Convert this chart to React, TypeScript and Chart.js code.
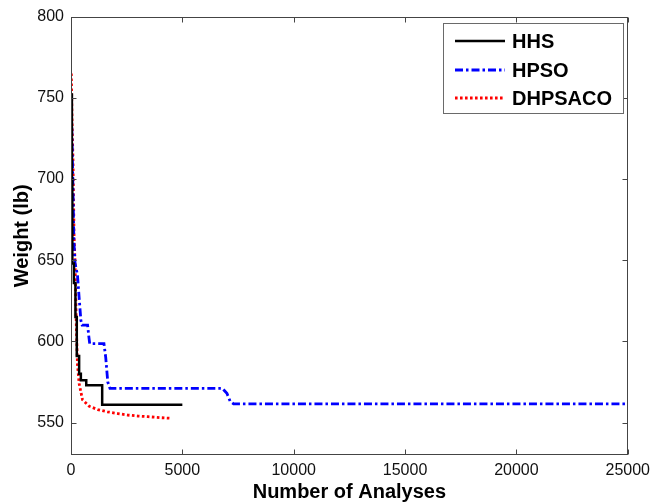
import React, { useEffect, useRef } from "react";
import { Chart, registerables } from "chart.js";

Chart.register(...registerables);

// Axis ticks
const xTicks = [0, 5000, 10000, 15000, 20000, 25000];
const yTicks = [550, 600, 650, 700, 750, 800];

// HHS (best-so-far, step curve)
const hhsX = [0, 40, 60, 130, 200, 260, 365, 443, 685, 1400, 5000];
const hhsY = [752, 700, 648, 636, 615, 591, 580, 576, 573, 561, 561];

// HPSO
const hpsoX = [20, 80, 130, 183, 289, 365, 443, 500, 745, 800, 840, 1480, 1560, 1650, 1750, 6800, 7000, 7150, 7300, 25000];
const hpsoY = [742, 700, 662, 648, 641, 627, 613, 610, 610, 603, 598.6, 598.6, 590, 575, 571, 571, 568, 563, 561.5, 561.5];

// DHPSACO
const dhpX = [15, 50, 90, 137, 183, 213, 243, 289, 365, 517, 822, 1200, 1630, 2100, 2543, 3000, 3457, 4000, 4480];
const dhpY = [765, 735, 711, 665, 648, 627, 607, 586, 574, 564, 560, 558, 556.6, 555.5, 554.6, 554, 553.6, 553, 552.6];

const seriesNames = ["HHS", "HPSO", "DHPSACO"];
const seriesColors = ["#000000", "#0000ff", "#ff0000"];

const FONT = "'Liberation Sans', Arial, sans-serif";

const toPts = (xs: number[], ys: number[]) => xs.map((x, i) => ({ x, y: ys[i] }));

const framePlugin = {
  id: "frame",
  afterDatasetsDraw(chart: any) {
    const { ctx, chartArea, scales } = chart;
    const { left, right, top, bottom } = chartArea;
    const xs = scales.x;
    const ys = scales.y;
    ctx.save();
    ctx.strokeStyle = "#444444";
    ctx.lineWidth = 1;
    ctx.setLineDash([]);
    const L = Math.round(left) + 0.5;
    const R = Math.round(right) - 0.5;
    const T = Math.round(top) + 0.5;
    const B = Math.round(bottom) - 0.5;
    ctx.strokeRect(L, T, R - L, B - T);
    const tl = 5;
    ctx.beginPath();
    xTicks.forEach((v) => {
      const px = Math.round(xs.getPixelForValue(v)) + 0.5;
      ctx.moveTo(px, B);
      ctx.lineTo(px, B - tl);
      ctx.moveTo(px, T);
      ctx.lineTo(px, T + tl);
    });
    yTicks.forEach((v) => {
      const py = Math.round(ys.getPixelForValue(v)) + 0.5;
      ctx.moveTo(L, py);
      ctx.lineTo(L + tl, py);
      ctx.moveTo(R, py);
      ctx.lineTo(R - tl, py);
    });
    ctx.stroke();
    ctx.restore();
  },
  afterDraw(chart: any) {
    const { ctx } = chart;
    const datasets = chart.data.datasets;
    ctx.save();
    const bx = 443.5, by = 23.5, bw = 180, bh = 90;
    ctx.fillStyle = "#ffffff";
    ctx.fillRect(bx, by, bw, bh);
    ctx.strokeStyle = "#6a6a6a";
    ctx.lineWidth = 1;
    ctx.setLineDash([]);
    ctx.strokeRect(bx, by, bw, bh);
    const rowsY = [41, 70, 98];
    datasets.forEach((ds: any, i: number) => {
      const y = rowsY[i];
      ctx.beginPath();
      ctx.strokeStyle = ds.borderColor;
      ctx.lineWidth = ds.borderWidth;
      ctx.setLineDash(ds.borderDash || []);
      ctx.moveTo(455, y);
      ctx.lineTo(505, y);
      ctx.stroke();
      ctx.setLineDash([]);
      ctx.fillStyle = "#000000";
      ctx.font = "bold 20px " + FONT;
      ctx.textBaseline = "middle";
      ctx.textAlign = "left";
      ctx.fillText(ds.label, 512, y + 1);
    });
    ctx.restore();
  },
};

export default function App() {
  const ref = useRef<HTMLCanvasElement | null>(null);

  useEffect(() => {
    if (!ref.current) return;
    const chart = new Chart(ref.current, {
      type: "line",
      data: {
        datasets: [
          {
            label: seriesNames[0],
            data: toPts(hhsX, hhsY),
            borderColor: seriesColors[0],
            borderWidth: 2.5,
            stepped: "before",
            pointRadius: 0,
            fill: false,
          },
          {
            label: seriesNames[1],
            data: toPts(hpsoX, hpsoY),
            borderColor: seriesColors[1],
            borderWidth: 2.8,
            borderDash: [8, 3, 2.5, 3],
            pointRadius: 0,
            fill: false,
          },
          {
            label: seriesNames[2],
            data: toPts(dhpX, dhpY),
            borderColor: seriesColors[2],
            borderWidth: 2.8,
            borderDash: [2.6, 2.4],
            pointRadius: 0,
            fill: false,
          },
        ],
      },
      options: {
        animation: false,
        responsive: false,
        maintainAspectRatio: false,
        layout: { padding: { top: 14, right: 26, left: 0, bottom: 0 } },
        plugins: {
          legend: { display: false },
          tooltip: { enabled: false },
        },
        elements: { point: { radius: 0 }, line: { tension: 0 } },
        scales: {
          x: {
            type: "linear",
            min: 0,
            max: 25000,
            afterBuildTicks: (s: any) => {
              s.ticks = xTicks.map((v) => ({ value: v }));
            },
            afterFit: (s: any) => {
              s.height = 47;
            },
            grid: { display: false, drawTicks: false },
            border: { display: false },
            ticks: {
              padding: 6,
              color: "#111111",
              font: { family: FONT, size: 16 },
              maxRotation: 0,
              autoSkip: false,
              callback: (v: any) => String(v),
            },
            title: {
              display: true,
              text: "Number of Analyses",
              color: "#000000",
              font: { family: FONT, size: 20, weight: "bold" },
              padding: { top: 0, bottom: -2 },
            },
          },
          y: {
            type: "linear",
            min: 530,
            max: 800,
            afterBuildTicks: (s: any) => {
              s.ticks = yTicks.map((v) => ({ value: v }));
            },
            afterFit: (s: any) => {
              s.width = 71;
            },
            grid: { display: false, drawTicks: false },
            border: { display: false },
            ticks: {
              padding: 7,
              color: "#111111",
              font: { family: FONT, size: 16 },
              autoSkip: false,
              callback: (v: any) => String(v),
            },
            title: {
              display: true,
              text: "Weight (lb)",
              color: "#000000",
              font: { family: FONT, size: 20, weight: "bold" },
              padding: { top: 10, bottom: 0 },
            },
          },
        },
      },
      plugins: [framePlugin],
    });
    return () => chart.destroy();
  }, []);

  return (
    <div style={{ position: "absolute", left: 0, top: 0, width: 656, height: 502, background: "#ffffff" }}>
      <canvas ref={ref} width={656} height={502} style={{ display: "block" }} />
    </div>
  );
}
